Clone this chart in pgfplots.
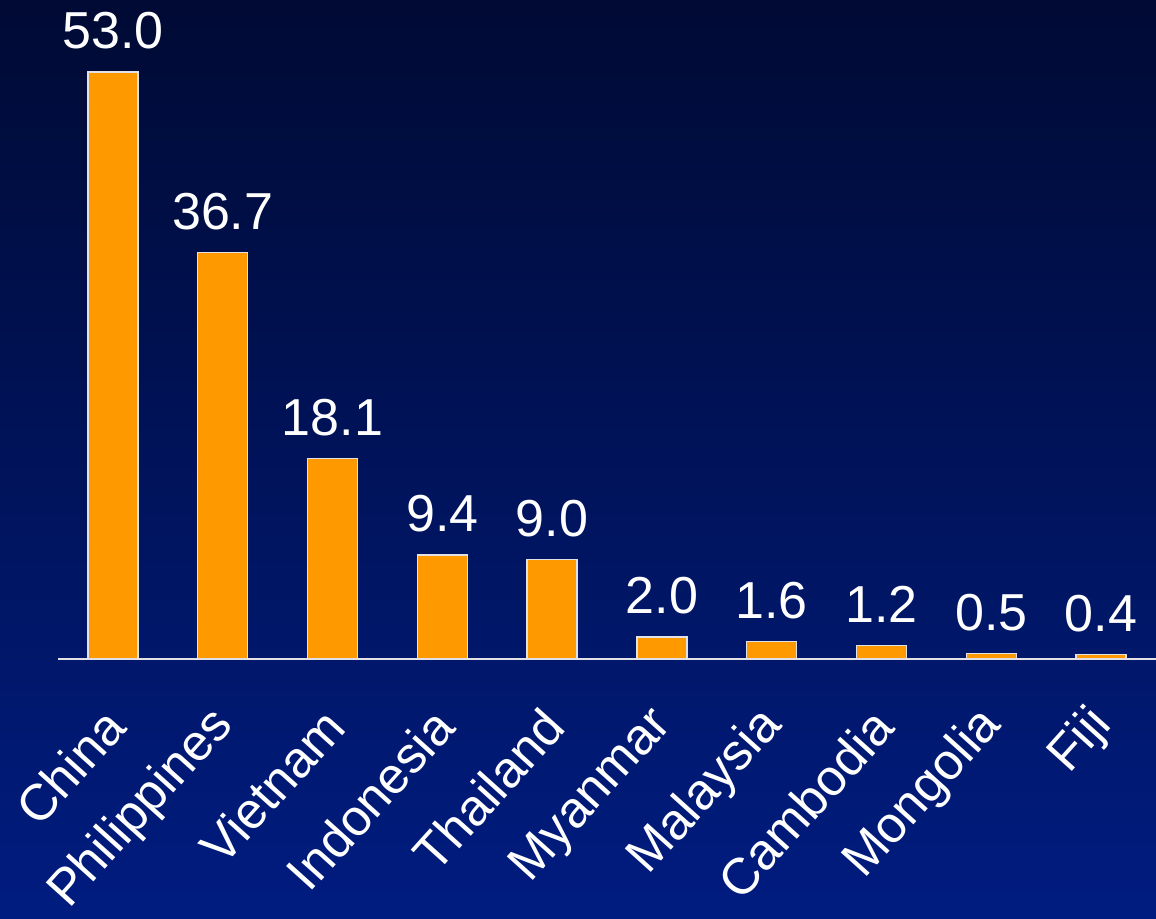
\documentclass[border=0pt]{standalone}
\usepackage{pgfplots}
\pgfplotsset{compat=1.18}
\usepackage{fontspec}
\setmainfont{Liberation Sans}
\definecolor{bgtop}{RGB}{0,10,52}
\definecolor{bgbot}{RGB}{0,28,128}
\definecolor{barorange}{RGB}{255,153,0}
\definecolor{edgegray}{RGB}{225,225,230}
\begin{document}
\begin{tikzpicture}
\shade[top color=bgtop, bottom color=bgbot, use as bounding box] (0,0) rectangle (578pt,459.5pt);
\begin{axis}[
  at={(29pt,130pt)}, anchor=south west,
  scale only axis, width=549pt, height=304.56pt,
  xmin=-0.5, xmax=9.5, ymin=0, ymax=55,
  axis y line=none, axis x line=bottom,
  x axis line style={-, draw=edgegray, line width=1pt},
  xtick=data,
  xticklabels={China,Philippines,Vietnam,Indonesia,Thailand,Myanmar,Malaysia,Cambodia,Mongolia,Fiji},
  major tick length=0pt,
  xticklabel style={xshift=1pt, yshift=2pt, font=\fontsize{25.5}{29}\selectfont, text=white, rotate=48, anchor=east, inner sep=0pt},
  xticklabel shift=31pt,
  ybar, bar width=25pt,
  clip=false,
  nodes near coords={\pgfmathprintnumber[fixed,fixed zerofill,precision=1,assume math mode=true]{\pgfplotspointmeta}},
  nodes near coords style={font=\fontsize{26}{30}\selectfont, text=white, anchor=south, inner sep=0pt, yshift=11pt},
]
\addplot[fill=barorange, draw=edgegray, line width=0.75pt] coordinates {
(0,53.0) (1,36.7) (2,18.1) (3,9.4) (4,9.0) (5,2.0) (6,1.6) (7,1.2) (8,0.5) (9,0.4)};
\end{axis}
\end{tikzpicture}
\end{document}
